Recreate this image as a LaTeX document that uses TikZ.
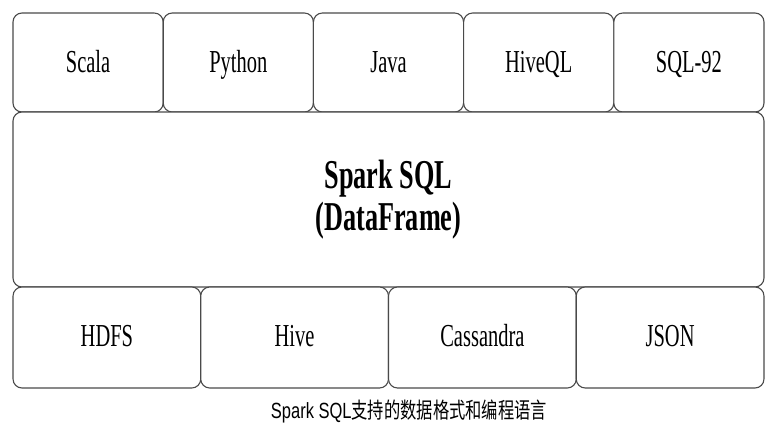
\documentclass[tikz,border=0pt]{standalone}
\usepackage{fontspec}
\setmainfont[FakeStretch=0.64]{Liberation Serif}
\newfontfamily\capfont[FakeStretch=0.75]{Liberation Sans}
\newfontfamily\cjk[FakeStretch=0.74]{Noto Sans CJK SC}
\definecolor{boxline}{HTML}{4A4A4A}
\tikzset{
  layerbox/.style={draw=boxline, line width=1.1pt, rounded corners=9pt, fill=white,
    inner sep=0pt, outer sep=0pt, align=center},
  topbox/.style={layerbox, minimum width=150.2pt, minimum height=99pt,
    text height=23pt, text depth=4pt, font=\fontsize{32}{36}\selectfont},
  lowbox/.style={layerbox, minimum width=187.75pt, minimum height=101pt,
    text height=21pt, text depth=4pt, font=\fontsize{32}{36}\selectfont}
}
\begin{document}
\begin{tikzpicture}[x=1pt,y=-1pt]
                \useasboundingbox (0,0) rectangle (779,424);
                \node[topbox] (scala) at (88.1,62.5) {Scala};
                \node[topbox] (python) at (238.3,62.5) {Python};
                \node[topbox] (java) at (388.5,62.5) {Java};
                \node[topbox] (hiveql) at (538.7,62.5) {HiveQL};
                \node[topbox] (sql92) at (688.9,62.5) {SQL-92};
                \node[layerbox, minimum width=751pt, minimum height=175pt,
                      font=\fontsize{41}{42}\selectfont\bfseries] (spark) at (388.5,199.5) {Spark SQL\\(DataFrame)};
                \node[lowbox] (hdfs) at (106.9,337.5) {HDFS};
                \node[lowbox] (hive) at (294.6,337.5) {Hive};
                \node[lowbox] (cassandra) at (482.4,337.5) {Cassandra};
                \node[lowbox] (json) at (670.1,337.5) {JSON};
                \node[font=\fontsize{22}{24}\selectfont] (caption) at (409,411) {\capfont Spark SQL\cjk 支持的数据格式和编程语言};
            \end{tikzpicture}
\end{document}
